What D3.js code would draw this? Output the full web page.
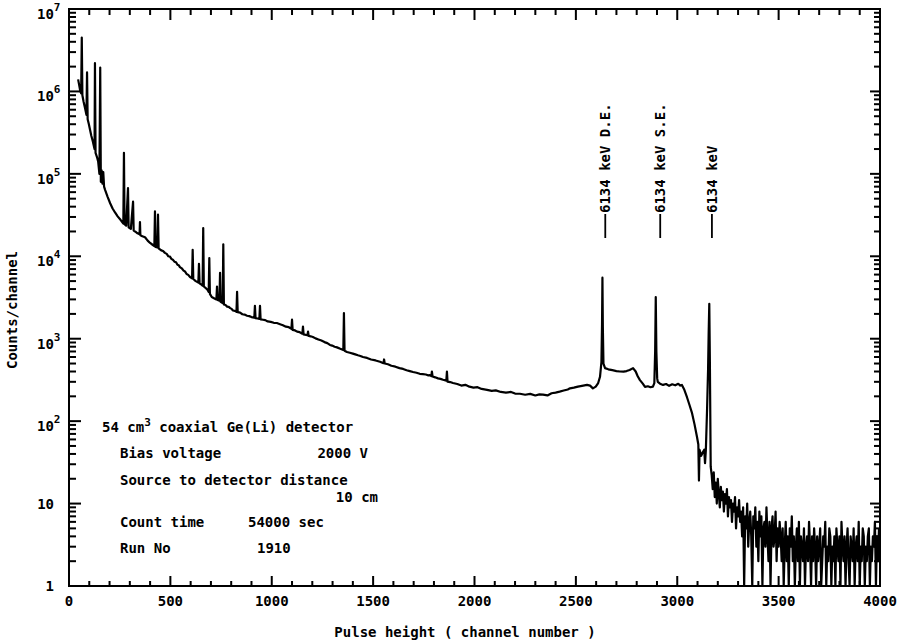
<!DOCTYPE html>
<html>
<head>
<meta charset="utf-8">
<script src="https://cdn.jsdelivr.net/npm/d3@7"></script>
<style>
  body { margin: 0; background: #fff; }
  text { font-family: "DejaVu Sans Mono", monospace; font-weight: bold; fill: #000; }
</style>
</head>
<body>
<svg id="chart" width="903" height="640"></svg>
<script>
// Ge(Li) pulse-height spectrum: channel numbers and counts per channel
const channel = [
  45, 50, 56, 60, 63, 66, 72, 79, 86, 89, 92, 98, 104, 110, 117, 122, 126, 128, 131, 138,
  144, 150, 154, 157, 161, 165, 169, 173, 178, 190, 203, 215, 227, 240, 255, 268, 271, 274, 282, 291,
  294, 305, 316, 319, 326, 338, 348, 350, 352, 362, 375, 388, 400, 412, 421, 424, 427, 436, 439, 442,
  455, 464, 473, 482, 490, 498, 505, 512, 520, 528, 535, 541, 547, 556, 565, 572, 580, 588, 597, 607,
  610, 613, 625, 638, 641, 644, 655, 659, 662, 665, 675, 682, 689, 692, 695, 704, 715, 727, 730, 733,
  742, 745, 748, 758, 761, 764, 772, 780, 788, 795, 802, 809, 818, 826, 829, 832, 844, 855, 866, 878,
  889, 900, 914, 917, 920, 930, 939, 942, 945, 957, 968, 980, 995, 1010, 1025, 1041, 1055, 1070, 1084, 1097,
  1100, 1103, 1115, 1125, 1138, 1151, 1154, 1157, 1176, 1179, 1182, 1192, 1203, 1216, 1230, 1245, 1260, 1274, 1287, 1298,
  1310, 1322, 1335, 1344, 1353, 1356, 1359, 1371, 1385, 1400, 1412, 1425, 1437, 1450, 1470, 1490, 1512, 1534, 1551, 1554,
  1557, 1573, 1590, 1610, 1630, 1648, 1665, 1681, 1697, 1714, 1730, 1745, 1760, 1770, 1780, 1787, 1790, 1793, 1806, 1820,
  1832, 1845, 1861, 1864, 1867, 1880, 1894,
  1915, 1935, 1955, 1975, 1995, 2015, 2035, 2062, 2085, 2105, 2130, 2155, 2180, 2200, 2224, 2250, 2275, 2300, 2320, 2338,
  2360, 2380, 2400, 2420, 2440, 2460, 2471, 2490, 2510, 2530, 2555, 2570, 2584, 2598, 2610, 2619, 2626, 2629, 2631, 2633,
  2636, 2644, 2660, 2680, 2700, 2717, 2735, 2750, 2765, 2782, 2795, 2805, 2816, 2830, 2841, 2855, 2868, 2880, 2887, 2891,
  2894, 2897, 2901, 2904, 2915, 2930, 2945, 2960, 2975, 2990, 3005, 3015, 3023, 3035, 3048, 3060, 3073, 3085, 3097, 3104,
  3107, 3110, 3118, 3126, 3133, 3137, 3141, 3147, 3152, 3155, 3158, 3161, 3165
];
const counts = [
  1.4e6, 1.2e6, 1.0e6, 9.5e5, 4.5e6, 9.0e5, 7.5e5, 6.3e5, 5.2e5, 1.7e6, 4.6e5, 4.0e5, 3.4e5, 2.9e5, 2.5e5, 2.2e5, 2.0e5, 2.2e6, 1.8e5, 1.6e5,
  1.4e5, 1.0e5, 1.95e6, 8.0e4, 1.1e5, 7.6e4, 1.05e5, 7.0e4, 6.4e4, 5.3e4, 4.4e4, 3.8e4, 3.4e4, 3.05e4, 2.75e4, 2.5e4, 1.8e5, 2.45e4, 2.35e4, 6.7e4,
  2.25e4, 2.15e4, 4.6e4, 2.05e4, 2.0e4, 1.9e4, 1.85e4, 2.6e4, 1.8e4, 1.75e4, 1.7e4, 1.55e4, 1.45e4, 1.38e4, 1.33e4, 3.5e4, 1.3e4, 1.28e4, 3.2e4, 1.25e4,
  1.18e4, 1.16e4, 1.1e4, 1.07e4, 1.0e4, 9900, 9300, 9100, 8600, 8450, 7900, 7800, 7400, 7150, 6700, 6550, 6100, 5950, 5600, 5400,
  1.2e4, 5300, 5000, 4800, 8100, 4700, 4500, 4400, 2.2e4, 4300, 4100, 3950, 3700, 9500, 3500, 3200, 3100, 3000, 4300, 2950,
  2900, 6300, 2800, 2700, 1.4e4, 2600, 2560, 2450, 2430, 2350, 2300, 2200, 2180, 2120, 3700, 2100, 2070, 1980, 1960, 1900,
  1880, 1830, 1800, 2500, 1780, 1760, 1740, 2500, 1720, 1700, 1680, 1620, 1600, 1560, 1550, 1500, 1460, 1400, 1380, 1320,
  1700, 1280, 1260, 1220, 1200, 1150, 1400, 1130, 1100, 1220, 1080, 1070, 1050, 1010, 980, 950, 910, 885, 840, 825,
  800, 785, 760, 745, 730, 2050, 715, 690, 675, 660, 645, 630, 618, 600, 585, 560, 545, 525, 505, 560,
  500, 490, 470, 458, 440, 430, 415, 405, 395, 386, 375, 372, 368, 360, 362, 352, 400, 348, 340, 330,
  326, 318, 310, 400, 302, 298, 290,
  282, 270, 276, 262, 255, 258, 246, 240, 233, 236, 226, 222, 226, 216, 215, 209, 214, 205, 211, 210,
  205, 218, 222, 228, 235, 242, 250, 255, 262, 268, 275, 270, 250, 262, 290, 345, 520, 1500, 5500, 1400,
  500, 440, 425, 415, 405, 400, 398, 405, 418, 440, 400, 350, 315, 285, 260, 265, 258, 262, 290, 700,
  3200, 700, 330, 300, 285, 275, 282, 268, 280, 272, 284, 270, 275, 240, 195, 158, 125, 92, 65, 52,
  19, 45, 38, 42, 45, 31, 44, 137, 420, 1200, 2650, 500, 28
];

// Noisy high-energy tail above the 6134 keV full-energy peak
const tailChannels = [
  3170, 3175, 3180, 3185, 3190, 3195, 3200, 3205, 3210, 3215,
  3220, 3225, 3230, 3235, 3240, 3245, 3250, 3255, 3260, 3265,
  3270, 3275, 3280, 3285, 3290, 3295, 3300, 3305, 3310, 3315,
  3320, 3325, 3330, 3335, 3340, 3345, 3350, 3355, 3360, 3365,
  3370, 3375, 3380, 3385, 3390, 3395, 3400, 3405, 3410, 3415,
  3420, 3425, 3430, 3435, 3440, 3445, 3450, 3455, 3460, 3465,
  3470, 3475, 3480, 3485, 3490, 3495, 3500, 3505, 3510, 3515,
  3520, 3525, 3530, 3535, 3540, 3545, 3550, 3555, 3560, 3565,
  3570, 3575, 3580, 3585, 3590, 3595, 3600, 3605, 3610, 3615,
  3620, 3625, 3630, 3635, 3640, 3645, 3650, 3655, 3660, 3665,
  3670, 3675, 3680, 3685, 3690, 3695, 3700, 3705, 3710, 3715,
  3720, 3725, 3730, 3735, 3740, 3745, 3750, 3755, 3760, 3765,
  3770, 3775, 3780, 3785, 3790, 3795, 3800, 3805, 3810, 3815,
  3820, 3825, 3830, 3835, 3840, 3845, 3850, 3855, 3860, 3865,
  3870, 3875, 3880, 3885, 3890, 3895, 3900, 3905, 3910, 3915,
  3920, 3925, 3930, 3935, 3940, 3945, 3950, 3955, 3960, 3965,
  3970, 3975, 3980, 3985, 3990, 3995
];
const tailCounts = [
  22, 15, 24, 12, 18, 10, 20, 13, 9, 16,
  11, 14, 8, 13, 10, 15, 7, 12, 9, 11,
  6, 10, 8, 12, 5, 9, 7, 11, 6, 8,
  4, 9, 1, 7, 5, 10, 3, 6, 8, 4,
  1, 7, 5, 9, 3, 6, 2, 8, 4, 7,
  1, 5, 6, 3, 9, 4, 2, 6, 1, 5,
  7, 3, 4, 8, 2, 5, 3, 6, 4, 2,
  5, 1, 3, 6, 2, 4, 1, 5, 3, 7,
  2, 4, 1, 3, 5, 2, 6, 1, 4, 3,
  2, 5, 1, 3, 4, 2, 6, 3, 1, 4,
  2, 5, 3, 1, 4, 2, 3, 5, 1, 2,
  4, 3, 6, 1, 3, 2, 5, 4, 1, 3,
  2, 4, 1, 5, 3, 2, 4, 1, 6, 3,
  2, 4, 1, 3, 5, 2, 1, 4, 3, 2,
  5, 1, 3, 4, 2, 6, 1, 3, 2, 5,
  4, 1, 3, 2, 4, 5, 1, 3, 2, 4,
  3, 6, 1, 4, 2, 5
];

// Peak markers
const peakChannels = [2645, 2916, 3171];
const peakLabels = ["6134 keV D.E.", "6134 keV S.E.", "6134 keV"];

// Axis ticks and labels
const xMajorTicks = [0, 500, 1000, 1500, 2000, 2500, 3000, 3500, 4000];
const xTickLabels = ["0", "500", "1000", "1500", "2000", "2500", "3000", "3500", "4000"];
const yDecades = [1, 10, 1e2, 1e3, 1e4, 1e5, 1e6, 1e7];
const yExponents = [null, null, "2", "3", "4", "5", "6", "7"];

// Run details printed inside the plot
const infoLines = [
  { t: "Bias voltage", v: "2000 V" },
  { t: "Source to detector distance", v: "10 cm" },
  { t: "Count time", v: "54000 sec" },
  { t: "Run No", v: "1910" }
];

const svg = d3.select("#chart");
const plotL = 69, plotR = 880, plotT = 9, plotB = 586;
const xScale = d3.scaleLinear().domain([0, 4000]).range([plotL, plotR]);
const yScale = d3.scaleLog().domain([1, 1e7]).range([plotB, plotT]);

// tick positions
const xMinorTicks = d3.range(0, 4001, 100).filter(v => v % 500 !== 0);
const yMinorTicks = [];
yDecades.slice(0, -1).forEach(d => { for (let m = 2; m <= 9; m++) yMinorTicks.push(d * m); });

// frame
svg.append("rect")
  .attr("x", plotL).attr("y", plotT)
  .attr("width", plotR - plotL).attr("height", plotB - plotT)
  .attr("fill", "none").attr("stroke", "#000").attr("stroke-width", 2);

// Inward-pointing tick marks drawn as thin filled bars on all four edges
const tickG = svg.append("g").attr("fill", "#000");
function xBars(values, y0, len) {
  tickG.append("g").selectAll("rect").data(values).join("rect")
    .attr("x", d => xScale(d) - 1).attr("width", 2)
    .attr("y", len > 0 ? y0 : y0 + len).attr("height", Math.abs(len));
}
function yBars(values, x0, len) {
  tickG.append("g").selectAll("rect").data(values).join("rect")
    .attr("y", d => yScale(d) - 1).attr("height", 2)
    .attr("x", len > 0 ? x0 : x0 + len).attr("width", Math.abs(len));
}
xBars(xMinorTicks, plotB, -5);
xBars(xMajorTicks, plotB, -10);
xBars(xMinorTicks, plotT, 6);
xBars(xMajorTicks, plotT, 11);
yBars(yMinorTicks, plotL, 7);
yBars(yDecades, plotL, 12);
yBars(yMinorTicks, plotR, -6);
yBars(yDecades, plotR, -10);

// x tick labels
svg.append("g").selectAll("text").data(xMajorTicks).join("text")
  .attr("x", d => xScale(d)).attr("y", plotB + 20)
  .attr("text-anchor", "middle").attr("font-size", 14)
  .text((d, i) => xTickLabels[i]);

// y tick labels with superscript exponents
yDecades.forEach((d, i) => {
  const e = yExponents[i];
  if (e === null) {
    svg.append("text").attr("x", 54).attr("y", yScale(d) + 5)
      .attr("text-anchor", "end").attr("font-size", 14)
      .text(d === 1 ? "1" : "10");
  } else {
    const t = svg.append("text").attr("x", 37).attr("y", yScale(d) + 10).attr("font-size", 14);
    t.append("tspan").text("10");
    t.append("tspan").attr("dy", -8).attr("font-size", 11).text(e);
  }
});

// axis titles
svg.append("text").attr("x", 465).attr("y", 637)
  .attr("text-anchor", "middle").attr("font-size", 14)
  .text("Pulse height ( channel number )");
svg.append("text")
  .attr("transform", "translate(17,310) rotate(-90)")
  .attr("text-anchor", "middle").attr("font-size", 14)
  .text("Counts/channel");

// spectrum
const pts = channel.map((c, i) => [c, counts[i]])
  .concat(tailChannels.map((c, i) => [c, tailCounts[i]]));
svg.append("path")
  .datum(pts)
  .attr("fill", "none").attr("stroke", "#000")
  .attr("stroke-width", 2.2).attr("stroke-linejoin", "round")
  .attr("d", d3.line().x(d => xScale(d[0])).y(d => yScale(Math.max(1, d[1]))));

// peak labels
peakChannels.forEach((c, i) => {
  const px = xScale(c);
  svg.append("line")
    .attr("x1", px).attr("x2", px).attr("y1", 238).attr("y2", 214)
    .attr("stroke", "#000").attr("stroke-width", 1.8);
  svg.append("text")
    .attr("transform", `translate(${px + 5},213) rotate(-90)`)
    .attr("font-size", 14)
    .text(peakLabels[i]);
});

// detector / run information
const info = svg.append("g");
const head = info.append("text").attr("x", 102).attr("y", 432).attr("font-size", 14);
head.append("tspan").text("54 cm");
head.append("tspan").attr("dy", -6).attr("font-size", 11).text("3");
head.append("tspan").attr("dy", 6).text(" coaxial Ge(Li) detector");

const rowY = [458, 485, 527, 553];
const valX = [{ x: 368, a: "end" }, { x: 378, a: "end", y: 502 }, { x: 248, a: "start" }, { x: 257, a: "start" }];
infoLines.forEach((r, i) => {
  info.append("text").attr("x", 120).attr("y", rowY[i]).attr("font-size", 14).text(r.t);
  info.append("text").attr("x", valX[i].x).attr("y", valX[i].y || rowY[i])
    .attr("text-anchor", valX[i].a).attr("font-size", 14).text(r.v);
});
</script>
</body>
</html>
